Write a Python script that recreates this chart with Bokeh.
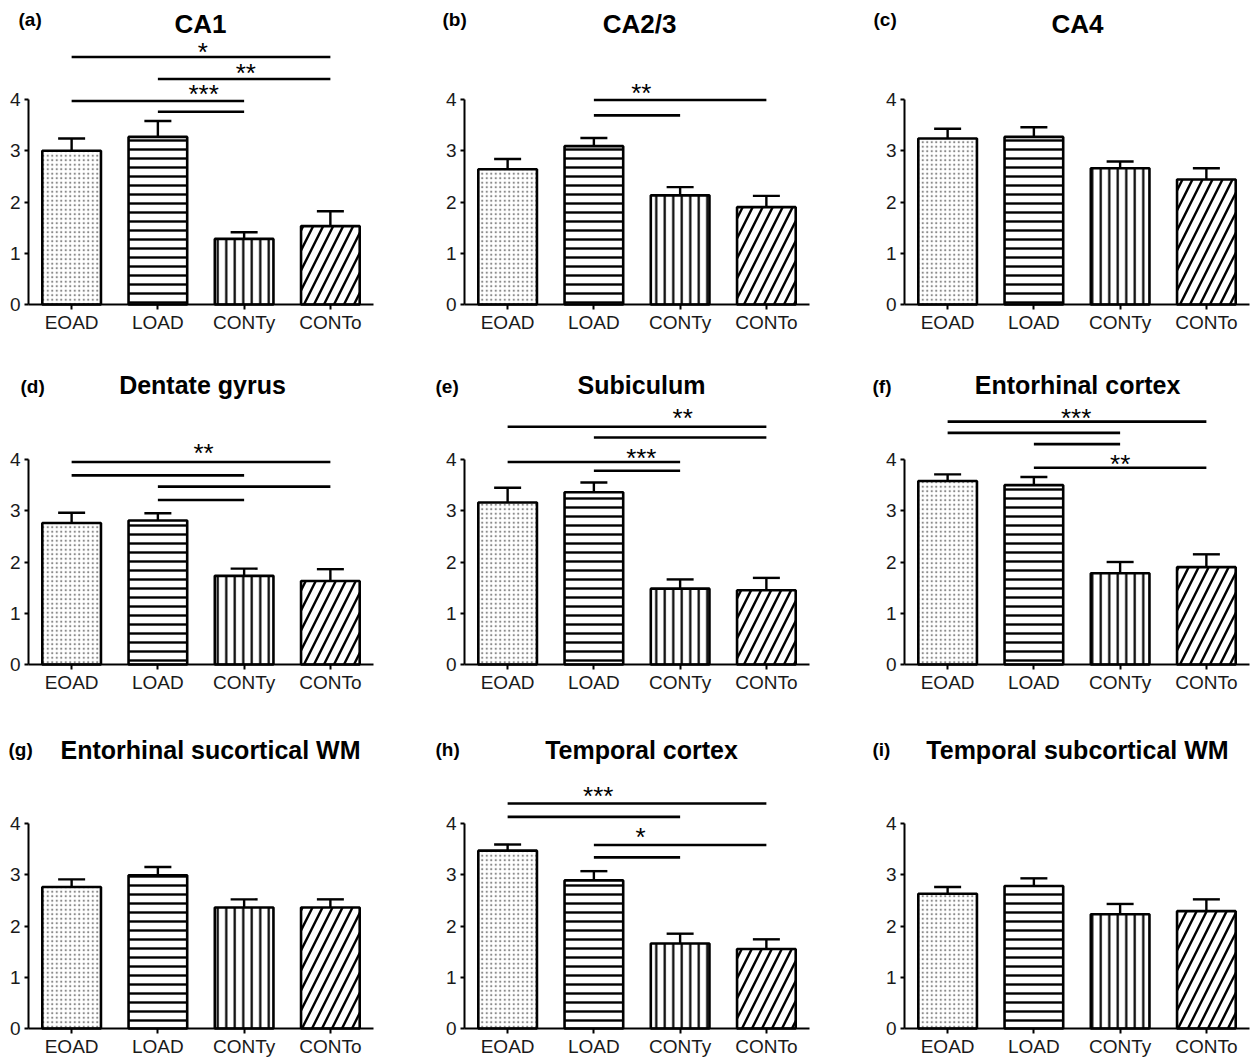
from bokeh.plotting import figure
from bokeh.layouts import gridplot
from bokeh.models import Range1d, FixedTicker, Label, ColumnDataSource, Whisker, TeeHead
from bokeh.embed import file_html
from bokeh.resources import INLINE
from bokeh.core.properties import value

# ---------------- data ----------------
groups = ["EOAD", "LOAD", "CONTy", "CONTo"]
y_ticks = [0, 1, 2, 3, 4]
panel_letters = ["(a)", "(b)", "(c)", "(d)", "(e)", "(f)", "(g)", "(h)", "(i)"]
panel_titles = ["CA1", "CA2/3", "CA4", "Dentate gyrus", "Subiculum", "Entorhinal cortex",
                "Entorhinal sucortical WM", "Temporal cortex", "Temporal subcortical WM"]

ca1_mean = [3.00, 3.27, 1.28, 1.53]
ca1_sem = [0.24, 0.31, 0.13, 0.29]
ca23_mean = [2.64, 3.09, 2.13, 1.90]
ca23_sem = [0.20, 0.16, 0.16, 0.22]
ca4_mean = [3.24, 3.27, 2.66, 2.44]
ca4_sem = [0.19, 0.19, 0.13, 0.22]
dg_mean = [2.76, 2.81, 1.73, 1.63]
dg_sem = [0.20, 0.14, 0.14, 0.23]
sub_mean = [3.16, 3.36, 1.48, 1.45]
sub_sem = [0.29, 0.19, 0.18, 0.24]
ec_mean = [3.58, 3.50, 1.78, 1.90]
ec_sem = [0.13, 0.16, 0.22, 0.25]
ecwm_mean = [2.76, 2.99, 2.36, 2.36]
ecwm_sem = [0.15, 0.16, 0.16, 0.16]
tc_mean = [3.47, 2.89, 1.66, 1.55]
tc_sem = [0.12, 0.18, 0.19, 0.19]
tcwm_mean = [2.63, 2.78, 2.23, 2.29]
tcwm_sem = [0.13, 0.15, 0.20, 0.23]

# significance comparisons: (from, to, y)
ca1_sig = [("EOAD", "CONTo", 4.83), ("LOAD", "CONTo", 4.40), ("EOAD", "CONTy", 3.97), ("LOAD", "CONTy", 3.76)]
ca23_sig = [("LOAD", "CONTo", 3.99), ("LOAD", "CONTy", 3.69)]
ca4_sig = []
dg_sig = [("EOAD", "CONTo", 3.95), ("EOAD", "CONTy", 3.69), ("LOAD", "CONTo", 3.47), ("LOAD", "CONTy", 3.21)]
sub_sig = [("EOAD", "CONTo", 4.64), ("LOAD", "CONTo", 4.43), ("EOAD", "CONTy", 3.95), ("LOAD", "CONTy", 3.78)]
ec_sig = [("EOAD", "CONTo", 4.74), ("EOAD", "CONTy", 4.52), ("LOAD", "CONTy", 4.30), ("LOAD", "CONTo", 3.84)]
ecwm_sig = []
tc_sig = [("EOAD", "CONTo", 4.39), ("EOAD", "CONTy", 4.13), ("LOAD", "CONTo", 3.58), ("LOAD", "CONTy", 3.34)]
tcwm_sig = []

# significance marks: (text, x in category units, y of mark centre)
ca1_stars = [("*", 2.02, 5.03), ("**", 2.52, 4.61), ("***", 2.03, 4.20)]
ca23_stars = [("**", 2.05, 4.23)]
ca4_stars = []
dg_stars = [("**", 2.03, 4.22)]
sub_stars = [("**", 2.53, 4.90), ("***", 2.05, 4.12)]
ec_stars = [("***", 1.99, 4.91), ("**", 2.50, 4.01)]
ecwm_stars = []
tc_stars = [("***", 1.55, 4.64), ("*", 2.04, 3.83)]
tcwm_stars = []

means = [ca1_mean, ca23_mean, ca4_mean, dg_mean, sub_mean, ec_mean, ecwm_mean, tc_mean, tcwm_mean]
sems = [ca1_sem, ca23_sem, ca4_sem, dg_sem, sub_sem, ec_sem, ecwm_sem, tc_sem, tcwm_sem]
sigs = [ca1_sig, ca23_sig, ca4_sig, dg_sig, sub_sig, ec_sig, ecwm_sig, tc_sig, tcwm_sig]
stars = [ca1_stars, ca23_stars, ca4_stars, dg_stars, sub_stars, ec_stars, ecwm_stars, tc_stars, tcwm_stars]

# ---------------- styles / layout ----------------
FONT = "Liberation Sans"
hatch_patterns = ["dot", "horizontal_line", "vertical_line", "right_diagonal_line"]
hatch_colors = ["#8a8a8a", "black", "black", "black"]
hatch_scales = [4.5, 9, 8.5, 20]
hatch_weights = [1.3, 2.4, 2.2, 2.4]

PX_PER_UNIT = 51.25
SLOT_PX = 345 / 4.0          # pixels per category slot
col_left = [0, 430, 866]
col_axis_x = [28, 464, 904]
col_width = [430, 436, 386]
row_top = [0, 340, 700]
row_axis_y = [304, 664, 1028]
row_height = [340, 360, 357]
title_cx = [[200, 639, 1077], [202, 641, 1077], [210, 641, 1077]]
title_base = [33, 393, 758]
title_px = [26, 25, 25]
letter_left = [[18, 442, 873], [20, 435, 872], [8, 435, 872]]
letter_base = [26, 393, 756]
LETTER_PX = 19
BASE_FIX = 0.36               # svg alphabetic baseline correction (em)

xpos = [i + 0.5 for i in range(len(groups))]


def make_panel(k):
    r, c = divmod(k, 3)
    W, H = col_width[c], row_height[r]
    x_start = -(col_axis_x[c] - col_left[c]) / SLOT_PX
    x_end = (col_left[c] + W - col_axis_x[c]) / SLOT_PX
    y_end = (row_axis_y[r] - row_top[r]) / PX_PER_UNIT
    y_start = -(row_top[r] + H - row_axis_y[r]) / PX_PER_UNIT
    p = figure(width=W, height=H, title=None,
               x_range=Range1d(x_start, x_end), y_range=Range1d(y_start, y_end),
               output_backend="svg", toolbar_location=None,
               min_border_left=0, min_border_right=0, min_border_top=0,
               min_border_bottom=0)
    p.outline_line_color = None
    p.xgrid.visible = False
    p.ygrid.visible = False
    p.background_fill_color = "white"
    p.border_fill_color = "white"

    src = ColumnDataSource(dict(x=xpos, top=means[k],
                                upper=[m + s for m, s in zip(means[k], sems[k])],
                                hp=hatch_patterns, hc=hatch_colors,
                                hs=hatch_scales, hw=hatch_weights))
    p.vbar(x="x", top="top", bottom=0, width=0.68, source=src,
           fill_color="white", line_color="black", line_width=2.6,
           hatch_pattern="hp", hatch_color="hc", hatch_scale="hs", hatch_weight="hw")
    p.add_layout(Whisker(base="x", lower="top", upper="upper", source=src,
                         line_color="black", line_width=2.4, lower_head=None,
                         upper_head=TeeHead(size=27, line_color="black", line_width=2.4)))

    if sigs[k]:
        x0 = [groups.index(s[0]) + 0.5 for s in sigs[k]]
        x1 = [groups.index(s[1]) + 0.5 for s in sigs[k]]
        yy = [s[2] for s in sigs[k]]
        p.segment(x0=x0, x1=x1, y0=yy, y1=yy, line_color="black", line_width=2.6)
    if stars[k]:
        p.text(x=[s[1] for s in stars[k]], y=[s[2] for s in stars[k]],
               text=[s[0] for s in stars[k]],
               text_align="center", text_baseline="alphabetic", y_offset=5,
               text_font=value(FONT), text_font_size="26px", text_color="black")

    # panel title and letter (canvas pixel units, origin top-left of this figure)
    p.add_layout(Label(x=title_cx[r][c] - col_left[c],
                       y=title_base[r] - row_top[r] - BASE_FIX * title_px[r],
                       x_units="canvas", y_units="canvas",
                       text=panel_titles[k], text_align="center", text_baseline="alphabetic",
                       text_font=FONT, text_font_style="bold",
                       text_font_size=f"{title_px[r]}px", text_color="black"))
    p.add_layout(Label(x=letter_left[r][c] - col_left[c],
                       y=letter_base[r] - row_top[r] - BASE_FIX * LETTER_PX,
                       x_units="canvas", y_units="canvas",
                       text=panel_letters[k], text_align="left", text_baseline="alphabetic",
                       text_font=FONT, text_font_style="bold",
                       text_font_size=f"{LETTER_PX}px", text_color="black"))

    # axes pinned at data zero
    ya = p.yaxis[0]
    ya.fixed_location = 0
    ya.ticker = FixedTicker(ticks=y_ticks, minor_ticks=[])
    ya.bounds = (0, 4)
    ya.axis_line_width = 2
    ya.axis_line_color = "black"
    ya.major_tick_line_width = 2
    ya.major_tick_out = 4
    ya.major_tick_in = 0
    ya.minor_tick_line_color = None
    ya.major_label_standoff = 4
    ya.major_label_text_font = FONT
    ya.major_label_text_font_size = "19px"
    ya.major_label_text_color = "#1a1a1a"

    xa = p.xaxis[0]
    xa.fixed_location = 0
    xa.ticker = FixedTicker(ticks=xpos, minor_ticks=[])
    xa.major_label_overrides = {x: g for x, g in zip(xpos, groups)}
    xa.bounds = (0, len(groups))
    xa.axis_line_width = 2
    xa.axis_line_color = "black"
    xa.major_tick_line_width = 2
    xa.major_tick_out = 5
    xa.major_tick_in = 0
    xa.minor_tick_line_color = None
    xa.major_label_standoff = 2
    xa.major_label_text_font = FONT
    xa.major_label_text_font_size = "19px"
    xa.major_label_text_color = "#1a1a1a"
    return p


panels = [make_panel(k) for k in range(9)]
grid = gridplot([panels[0:3], panels[3:6], panels[6:9]], toolbar_location=None)

open("out.html", "w").write(file_html(grid, INLINE))
